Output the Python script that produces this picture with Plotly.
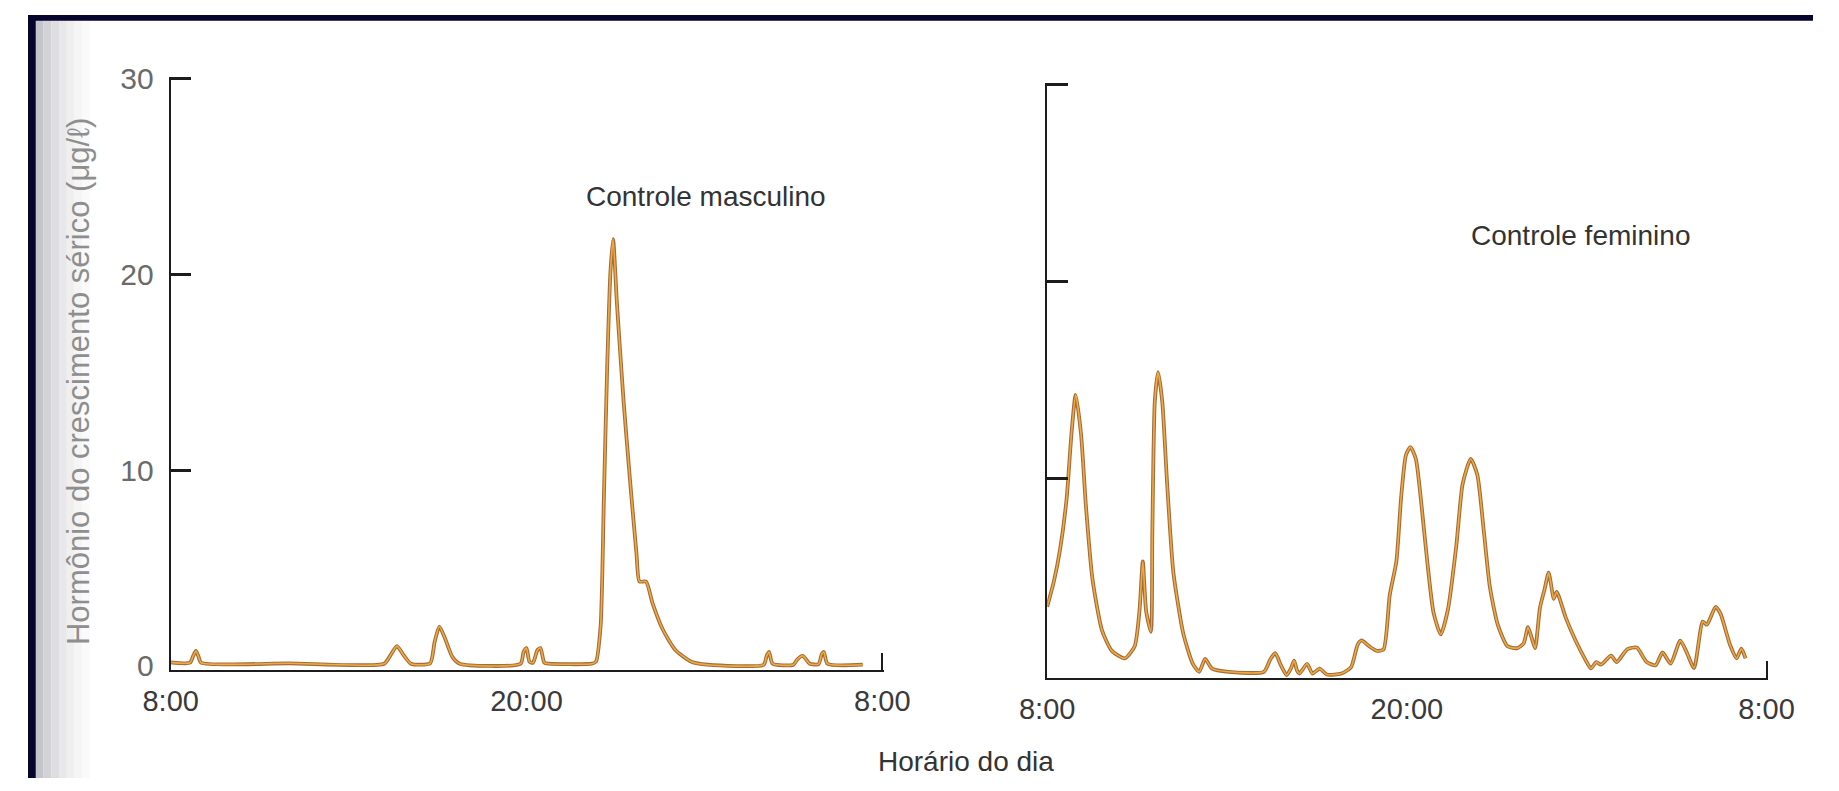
import plotly.graph_objects as go

# ---------------- data (hours after 8:00, GH in ug/l) ----------------
male_hours = [0.0, 0.65, 0.76, 0.85, 0.93, 1.03, 4.0, 7.2, 7.42, 7.63, 7.85, 8.1,
              8.75, 8.9, 9.06, 9.25, 9.5, 9.75, 11.8, 11.9, 12.0, 12.1, 12.22,
              12.37, 12.47, 12.6, 12.75, 14.2, 14.34, 14.5, 14.61, 14.72, 14.83,
              14.92, 15.05, 15.27, 15.49, 15.71, 15.81, 16.03, 16.25, 16.58,
              17.02, 17.56, 18.1, 20.0, 20.1, 20.18, 20.3, 21.0, 21.15, 21.32,
              21.55, 21.85, 21.96, 22.03, 22.15, 23.34]
male_values = [0.17, 0.15, 0.5, 0.75, 0.5, 0.15, 0.12, 0.1, 0.55, 1.0, 0.55, 0.1,
               0.12, 1.2, 2.0, 1.4, 0.45, 0.1, 0.1, 0.7, 0.9, 0.2, 0.15,
               0.8, 0.9, 0.15, 0.1, 0.1, 0.2, 2.05, 8.6, 15.2, 20.1,
               21.8, 18.5, 13.6, 9.5, 5.7, 4.3, 4.3, 3.2, 1.9,
               0.8, 0.2, 0.05, 0.05, 0.5, 0.7, 0.1, 0.05, 0.35, 0.5,
               0.1, 0.08, 0.6, 0.7, 0.1, 0.05]

female_hours = [0.0, 0.22, 0.43, 0.65, 0.81, 0.95, 1.13, 1.29, 1.51, 1.83, 2.16,
                2.59, 2.92, 3.08, 3.19, 3.3, 3.46, 3.51, 3.59, 3.7, 3.84, 4.0,
                4.21, 4.54, 4.86, 5.07, 5.27, 5.5, 6.05, 7.23, 7.45, 7.61, 7.8,
                7.99, 8.13, 8.24, 8.33, 8.42, 8.67, 8.85, 9.09, 9.33, 9.82,
                10.14, 10.36, 10.49, 10.74, 11.0, 11.22, 11.43, 11.65, 11.81,
                11.97, 12.12, 12.3, 12.46, 12.68, 12.89, 13.13, 13.37, 13.65,
                13.86, 14.13, 14.35, 14.56, 14.77, 15.04, 15.36, 15.69, 15.9,
                16.04, 16.17, 16.28, 16.44, 16.6, 16.73, 16.85, 16.9, 17.0,
                17.3, 17.62, 17.95, 18.14, 18.32, 18.48, 18.81, 19.0, 19.35,
                19.67, 20.0, 20.3, 20.53, 20.8, 21.12, 21.33, 21.58, 21.87,
                22.01, 22.3, 22.46, 22.79, 23.0, 23.16, 23.3]
female_values = [3.5, 4.76, 6.4, 9.0, 12.26, 14.25, 12.26, 8.67, 4.92, 2.3, 1.26,
                 0.88, 1.5, 3.3, 5.8, 3.3, 2.23, 7.4, 13.9, 15.4, 13.9, 9.8,
                 5.25, 2.15, 0.6, 0.2, 0.85, 0.36, 0.2, 0.2, 0.85, 1.14, 0.52,
                 0.03, 0.36, 0.77, 0.28, 0.11, 0.6, 0.11, 0.36, 0.06, 0.11,
                 0.44, 1.58, 1.79, 1.5, 1.26, 1.33, 4.1, 5.8, 9.07,
                 11.2, 11.6, 11.0, 9.07, 5.8, 3.2, 2.1, 3.36, 6.6,
                 9.72, 11.0, 10.2, 7.44, 4.5, 2.55, 1.49, 1.4, 1.65,
                 2.46, 1.89, 1.4, 3.44, 4.42, 5.23, 4.25, 3.9, 4.25,
                 2.95, 1.81, 0.83, 0.37, 0.69, 0.56, 1.02, 0.69, 1.34,
                 1.43, 0.69, 0.53, 1.18, 0.61, 1.78, 1.21, 0.39, 2.75,
                 2.59, 3.49, 3.16, 1.53, 0.88, 1.37, 0.88]

x_tick_vals = [0, 12, 24]
x_tick_text = ["8:00", "20:00", "8:00"]
y_tick_vals = [0, 10, 20, 30]
y_tick_text = ["0", "10", "20", "30"]
y_mark_vals = [10, 20, 30]
end_mark_vals = [24]

title_male = "Controle masculino"
title_female = "Controle feminino"
x_title = "Horário do dia"
y_title = "Hormônio do crescimento sérico (μg/ℓ)"

# ---------------- styling ----------------
W, H = 1839, 791
def px(x): return x / W
def py(y): return 1 - y / H

FONT = "Liberation Sans, Arial, Helvetica, sans-serif"
EDGE = "#a46c3c"
CORE = "#eeaa3e"
AX = "#1c1c1c"

fig = go.Figure()
for xs, ys, under, over in [(male_hours, male_values, ("x", "y"), ("x3", "y3")),
                            (female_hours, female_values, ("x2", "y2"), ("x4", "y4"))]:
    fig.add_trace(go.Scatter(x=xs, y=ys, mode="lines", xaxis=under[0], yaxis=under[1],
                             line=dict(color=EDGE, width=3.8, shape="spline", smoothing=0.6),
                             hoverinfo="skip"))
    fig.add_trace(go.Scatter(x=xs, y=ys, mode="lines", xaxis=over[0], yaxis=over[1],
                             line=dict(color=CORE, width=1.6, shape="spline", smoothing=0.6),
                             hoverinfo="skip"))

X_RANGE = [0, 24.06]
L_DOM = [px(147), px(882)]
R_DOM = [px(1050), px(1793)]
L_Y = [py(678.6), py(64)]
R_Y = [py(687), py(70)]
L_RANGE = [-0.2, 30.1]
R_RANGE = [-0.1, 30.1]

base_x = dict(range=X_RANGE, tickvals=x_tick_vals, ticktext=x_tick_text, ticks="",
              showline=True, linecolor=AX, linewidth=2, showgrid=False, zeroline=False,
              tickfont=dict(family=FONT, size=29, color="#3a3a3a"), ticklabelstandoff=5)
end_x = dict(range=X_RANGE, tickvals=end_mark_vals, ticks="inside", ticklen=17,
             tickwidth=2, tickcolor=AX, showticklabels=False, showline=False,
             showgrid=False, zeroline=False, side="bottom")

fig.update_layout(
    width=W, height=H, margin=dict(l=0, r=0, t=0, b=0, pad=0),
    paper_bgcolor="#ffffff", plot_bgcolor="rgba(0,0,0,0)", showlegend=False,
    xaxis=dict(domain=L_DOM, anchor="y", **base_x),
    yaxis=dict(domain=L_Y, anchor="x", range=L_RANGE, tickvals=y_tick_vals,
               ticktext=y_tick_text, ticks="", showline=True, linecolor=AX, linewidth=2,
               showgrid=False, zeroline=False, ticklabelstandoff=9,
               tickfont=dict(family=FONT, size=30, color="#6a6a6a")),
    xaxis3=dict(overlaying="x", anchor="y3", **end_x),
    yaxis3=dict(overlaying="y", anchor="x3", range=L_RANGE, tickvals=y_mark_vals,
                ticks="inside", ticklen=20, tickwidth=2.5, tickcolor=AX,
                showticklabels=False, showline=False, showgrid=False, zeroline=False),
    xaxis2=dict(domain=R_DOM, anchor="y2", **base_x),
    yaxis2=dict(domain=R_Y, anchor="x2", range=R_RANGE, tickvals=y_mark_vals,
                ticks="inside", ticklen=21, tickwidth=2.5, tickcolor=AX,
                showticklabels=False, showline=True, linecolor=AX, linewidth=2,
                showgrid=False, zeroline=False),
    xaxis4=dict(overlaying="x2", anchor="y4", **end_x),
    yaxis4=dict(overlaying="y2", anchor="x4", range=R_RANGE, showticklabels=False,
                ticks="", showline=False, showgrid=False, zeroline=False),
)

ann_font = dict(family=FONT, size=28, color="#333333")
fig.add_annotation(text=title_male, xref="paper", yref="paper", x=px(698), y=py(188),
                   showarrow=False, font=ann_font, xanchor="center", yanchor="middle")
fig.add_annotation(text=title_female, xref="paper", yref="paper", x=px(1599), y=py(229),
                   showarrow=False, font=ann_font, xanchor="center", yanchor="middle")
fig.add_annotation(text=x_title, xref="paper", yref="paper", x=px(966), y=py(774),
                   showarrow=False, font=ann_font, xanchor="center", yanchor="middle")
fig.add_annotation(text=y_title, xref="paper", yref="paper", x=px(52), y=py(379),
                   showarrow=False, textangle=-90, xanchor="center", yanchor="middle",
                   font=dict(family=FONT, size=31, color="#8e8e8e"))

# scanned page: dark frame and shading on the left edge
shapes = []
grads = ["#c4c4cb", "#d2d2d7", "#dedee1", "#e8e8ea", "#efeff0", "#f5f5f5", "#fafafa"]
for i, c in enumerate(grads):
    shapes.append(dict(type="rect", xref="paper", yref="paper", layer="below",
                       x0=px(8 + i * 8), x1=px(16 + i * 8), y0=0, y1=1,
                       line=dict(width=0), fillcolor=c))
shapes.append(dict(type="rect", xref="paper", yref="paper", layer="below",
                   x0=0, x1=px(8), y0=0, y1=1, line=dict(width=0), fillcolor="#05052e"))
shapes.append(dict(type="rect", xref="paper", yref="paper", layer="below",
                   x0=0, x1=1, y0=py(6), y1=1, line=dict(width=0), fillcolor="#05052e"))
fig.update_layout(shapes=shapes)

fig.write_html(
    "out.html",
    post_script="document.documentElement.style.margin='0';"
                "document.body.style.margin='0';"
                "document.body.style.overflow='hidden';"
                "document.documentElement.style.overflow='hidden';",
)
